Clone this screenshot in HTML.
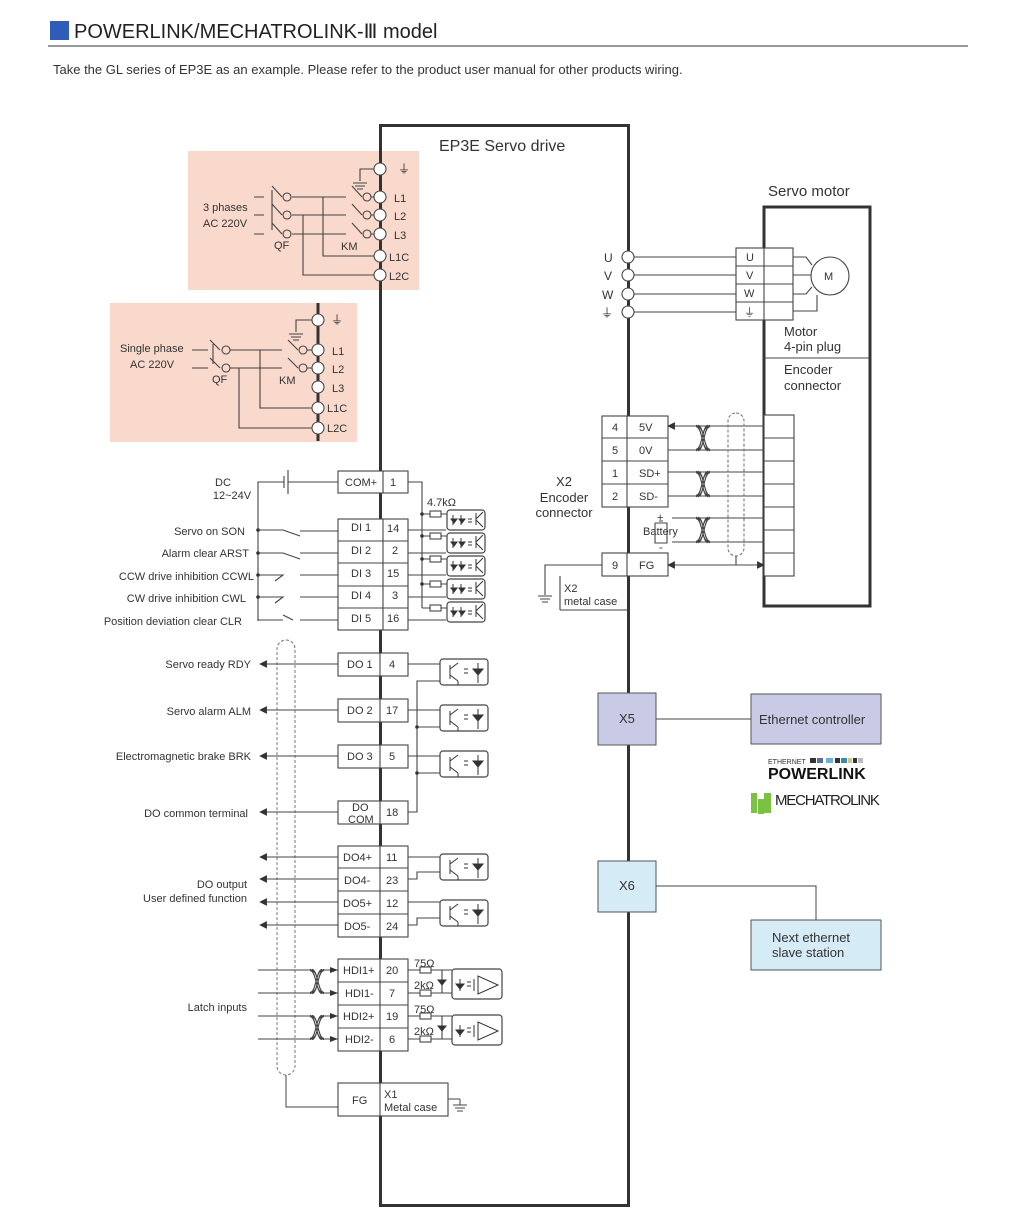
<!DOCTYPE html>
<html><head><meta charset="utf-8"><style>
html,body{margin:0;padding:0;background:#fff;}
svg{display:block;font-family:"Liberation Sans",sans-serif;}
text{fill:#333;}
.s{font-size:11px;}
.m{font-size:12px;}
</style></head><body>
<svg width="1018" height="1231" viewBox="0 0 1018 1231" xmlns="http://www.w3.org/2000/svg">
<defs>
<g id="optoDI"><rect x="0" y="-9" width="38" height="20" rx="3" fill="none" stroke="#444" stroke-width="1.2"/><path d="M6-4v10M14-4v10M4 0h6l-3 4zM12 0h6l-3 4z" stroke="#333" fill="#333" stroke-width="1"/><path d="M21 0l4 0M21 3l4 0" stroke="#333"/><path d="M29-6v12M29 0l7-7M29 1l7 7" stroke="#333" fill="none"/></g>
<g id="optoDO"><rect x="0" y="-12" width="48" height="26" rx="3" fill="none" stroke="#444" stroke-width="1.2"/><path d="M10-6v14M10-2l8-6M10 4l8 6M18 10v4" stroke="#333" fill="none"/><path d="M24-2h4M24 2h4" stroke="#333"/><path d="M38-8v20M33-2h10l-5 6z" stroke="#333" fill="#333"/></g>
<g id="optoHD"><rect x="0" y="-13" width="50" height="30" rx="3" fill="none" stroke="#444" stroke-width="1.2"/><path d="M4 2h8l-4 5zM8 -3v12" stroke="#333" fill="#333"/><path d="M15 0h4M15 4h4" stroke="#333"/><path d="M22-3v12M26-6l0 18l20-9z" stroke="#333" fill="none"/></g>
<g id="tw"><path d="M0 0c6 0 6 10 12 10M0 10c6 0 6-10 12-10M2 0c6 0 6 10 12 10M2 10c6 0 6-10 12-10" stroke="#444" fill="none" stroke-width="1"/></g>
<marker id="ar" viewBox="0 0 10 10" refX="9" refY="5" markerWidth="7" markerHeight="7" orient="auto-start-reverse"><path d="M0 0L10 5L0 10z" fill="#333"/></marker>
<g id="gnd"><path d="M-7 0h14M-5 3h10M-3 6h6" stroke="#444"/></g>
</defs>

<rect x="50" y="21" width="19" height="19" fill="#2d5db8"/>
<text x="74" y="38" style="font-size:20px;fill:#222">POWERLINK/MECHATROLINK-Ⅲ model</text>
<line x1="48" y1="46" x2="968" y2="46" stroke="#333" stroke-width="1"/>
<text x="53" y="74" style="font-size:13px">Take the GL series of EP3E as an example. Please refer to the product user manual for other products wiring.</text>

<rect x="188" y="151" width="231" height="139" fill="#f9d9cc"/>
<rect x="110" y="303" width="247" height="139" fill="#f9d9cc"/>
<line x1="318" y1="303" x2="318" y2="441" stroke="#333" stroke-width="3"/>

<rect x="380.5" y="125.5" width="248" height="1080" fill="none" stroke="#333" stroke-width="3"/>
<text x="439" y="151" style="font-size:16px">EP3E Servo drive</text>

<g stroke="#444" fill="none" stroke-width="1.1">
<circle cx="380" cy="169" r="6" fill="#fff"/><circle cx="380" cy="197" r="6" fill="#fff"/><circle cx="380" cy="215" r="6" fill="#fff"/><circle cx="380" cy="234" r="6" fill="#fff"/><circle cx="380" cy="256" r="6" fill="#fff"/><circle cx="380" cy="275" r="6" fill="#fff"/>
<path d="M374 169h-14v12"/>
<path d="M254 197h10M254 215h10M254 234h10M272 186l10 11M272 204l10 11M272 223l10 11M272 190v40"/>
<path d="M292 197h54M292 215h54M292 234h54M352 186l10 11M352 204l10 11M352 223l10 11"/>
<path d="M370 197h4M370 215h4M370 234h4"/>
<path d="M323 197v59h51M303 215v60h71"/>
<circle cx="287" cy="197" r="4" fill="#f9d9cc"/><circle cx="287" cy="215" r="4" fill="#f9d9cc"/><circle cx="287" cy="234" r="4" fill="#f9d9cc"/>
<circle cx="367" cy="197" r="4" fill="#f9d9cc"/><circle cx="367" cy="215" r="4" fill="#f9d9cc"/><circle cx="367" cy="234" r="4" fill="#f9d9cc"/>
<circle cx="318" cy="320" r="6" fill="#fff"/><circle cx="318" cy="350" r="6" fill="#fff"/><circle cx="318" cy="368" r="6" fill="#fff"/><circle cx="318" cy="387" r="6" fill="#fff"/><circle cx="318" cy="408" r="6" fill="#fff"/><circle cx="318" cy="428" r="6" fill="#fff"/>
<path d="M312 320h-16v12"/>
<path d="M192 350h16M192 368h16M210 340l10 10M210 358l10 10M213 344v20"/>
<path d="M230 350h52M230 368h52M288 340l10 10M288 358l10 10M306 350h6M306 368h6"/>
<path d="M260 350v58h52M239 368v60h73"/>
<circle cx="226" cy="350" r="4" fill="#f9d9cc"/><circle cx="226" cy="368" r="4" fill="#f9d9cc"/><circle cx="303" cy="350" r="4" fill="#f9d9cc"/><circle cx="303" cy="368" r="4" fill="#f9d9cc"/>
</g>
<use href="#gnd" x="360" y="183"/><use href="#gnd" x="296" y="334"/>
<g class="s">
<text x="398" y="173" style="font-size:12px">⏚</text><text x="394" y="202">L1</text><text x="394" y="220">L2</text><text x="394" y="239">L3</text><text x="389" y="261">L1C</text><text x="389" y="280">L2C</text>
<text x="203" y="211">3 phases</text><text x="203" y="227">AC 220V</text><text x="274" y="249">QF</text><text x="341" y="250">KM</text>
<text x="331" y="324" style="font-size:12px">⏚</text><text x="332" y="355">L1</text><text x="332" y="373">L2</text><text x="332" y="392">L3</text><text x="327" y="412">L1C</text><text x="327" y="432">L2C</text>
<text x="120" y="352">Single phase</text><text x="130" y="368">AC 220V</text><text x="212" y="383">QF</text><text x="279" y="384">KM</text>
</g>

<g stroke="#444" fill="#fff" stroke-width="1.1">
<rect x="338" y="471" width="70" height="22"/><line x1="383" y1="471" x2="383" y2="493"/>
<rect x="338" y="519" width="70" height="111"/>
<path d="M383 519v111M338 541h70M338 563h70M338 586h70M338 608h70" fill="none"/>
</g>
<g class="s">
<text x="345" y="486">COM+</text><text x="390" y="486">1</text>
<text x="351" y="531">DI 1</text><text x="387" y="532">14</text>
<text x="351" y="554">DI 2</text><text x="392" y="554">2</text>
<text x="351" y="577">DI 3</text><text x="387" y="577">15</text>
<text x="351" y="599">DI 4</text><text x="392" y="599">3</text>
<text x="351" y="622">DI 5</text><text x="387" y="622">16</text>
<text x="223" y="486" text-anchor="middle">DC</text><text x="232" y="499" text-anchor="middle">12~24V</text>
<text x="245" y="535" text-anchor="end">Servo on  SON</text>
<text x="249" y="557" text-anchor="end">Alarm clear  ARST</text>
<text x="254" y="580" text-anchor="end">CCW drive inhibition  CCWL</text>
<text x="246" y="602" text-anchor="end">CW drive inhibition  CWL</text>
<text x="242" y="625" text-anchor="end">Position deviation clear  CLR</text>
<text x="427" y="506">4.7kΩ</text>
</g>
<g stroke="#444" fill="none" stroke-width="1.1">
<path d="M338 482h-50M288 470v24M284 476v12M284 482h-26v139"/>
<path d="M258 530h25l17 6M258 553h25l17 6M258 575h25l-8 6M258 597h25l-8 6M258 620h25M283 615l10 5" />
<path d="M300 531h38M300 553h38M300 575h38M300 597h38M300 620h38"/>
<path d="M408 482h14v126"/>
<path d="M422 514h8M422 536h8M422 559h8M422 584h8M422 608h8"/>
<path d="M408 530h38M408 553h38M408 575h38M408 597h38M408 620h38"/>
<rect x="430" y="511" width="11" height="6"/><rect x="430" y="533" width="11" height="6"/><rect x="430" y="556" width="11" height="6"/><rect x="430" y="581" width="11" height="6"/><rect x="430" y="605" width="11" height="6"/>
<path d="M441 514h6M441 536h6M441 559h6M441 584h6M441 608h6"/>
</g>
<g fill="#333"><circle cx="258" cy="530" r="1.8"/><circle cx="258" cy="553" r="1.8"/><circle cx="258" cy="575" r="1.8"/><circle cx="258" cy="597" r="1.8"/><circle cx="422" cy="514" r="1.8"/><circle cx="422" cy="536" r="1.8"/><circle cx="422" cy="559" r="1.8"/><circle cx="422" cy="584" r="1.8"/></g>
<use href="#optoDI" x="447" y="519"/><use href="#optoDI" x="447" y="542"/><use href="#optoDI" x="447" y="565"/><use href="#optoDI" x="447" y="588"/><use href="#optoDI" x="447" y="611"/>

<rect x="277" y="640" width="18" height="435" rx="9" fill="none" stroke="#777" stroke-dasharray="3,2"/>
<path d="M286 1075v32h52" stroke="#444" fill="none"/>

<g stroke="#444" fill="#fff" stroke-width="1.1">
<rect x="338" y="653" width="70" height="23"/><rect x="338" y="699" width="70" height="23"/><rect x="338" y="745" width="70" height="23"/><rect x="338" y="801" width="70" height="23"/>
<path d="M380 653v23M380 699v23M380 745v23M380 801v23"/>
<rect x="338" y="846" width="70" height="91"/><path d="M380 846v91M338 868h70M338 891h70M338 914h70"/>
<rect x="338" y="959" width="70" height="92"/><path d="M380 959v92M338 982h70M338 1005h70M338 1028h70"/>
<rect x="338" y="1083" width="110" height="33"/><path d="M380 1083v33"/>
</g>
<g stroke="#444" fill="none" stroke-width="1.1" marker-end="url(#ar)">
<path d="M338 664H260"/><path d="M338 710H260"/><path d="M338 756H260"/><path d="M338 812H260"/>
<path d="M338 857H260"/><path d="M338 879H260"/><path d="M338 902H260"/><path d="M338 925H260"/>
</g>
<g stroke="#444" fill="none" stroke-width="1.1">
<path d="M408 664h32M408 710h32M408 756h32M408 812h9V681h23M417 727h23M417 773h23"/>
<path d="M408 857h32M408 879h9v-7h23M408 902h32M408 925h9v-7h23"/>
</g>
<g fill="#333"><circle cx="417" cy="727" r="1.8"/><circle cx="417" cy="773" r="1.8"/></g>
<use href="#optoDO" x="440" y="671"/><use href="#optoDO" x="440" y="717"/><use href="#optoDO" x="440" y="763"/><use href="#optoDO" x="440" y="866"/><use href="#optoDO" x="440" y="912"/>
<g class="s">
<text x="347" y="668">DO 1</text><text x="389" y="668">4</text>
<text x="347" y="714">DO 2</text><text x="386" y="714">17</text>
<text x="347" y="760">DO 3</text><text x="389" y="760">5</text>
<text x="352" y="811">DO</text><text x="348" y="823">COM</text><text x="386" y="816">18</text>
<text x="343" y="861">DO4+</text><text x="386" y="861">11</text>
<text x="344" y="884">DO4-</text><text x="386" y="884">23</text>
<text x="343" y="907">DO5+</text><text x="386" y="907">12</text>
<text x="344" y="930">DO5-</text><text x="386" y="930">24</text>
<text x="251" y="668" text-anchor="end">Servo ready  RDY</text>
<text x="251" y="715" text-anchor="end">Servo alarm  ALM</text>
<text x="251" y="760" text-anchor="end">Electromagnetic brake  BRK</text>
<text x="248" y="817" text-anchor="end">DO common terminal</text>
<text x="247" y="888" text-anchor="end">DO output</text>
<text x="247" y="902" text-anchor="end">User defined function</text>
<text x="247" y="1011" text-anchor="end">Latch inputs</text>
<text x="343" y="974">HDI1+</text><text x="386" y="974">20</text>
<text x="345" y="997">HDI1-</text><text x="389" y="997">7</text>
<text x="343" y="1020">HDI2+</text><text x="386" y="1020">19</text>
<text x="345" y="1043">HDI2-</text><text x="389" y="1043">6</text>
<text x="352" y="1104">FG</text><text x="384" y="1098">X1</text><text x="384" y="1111">Metal case</text>
<text x="414" y="967">75Ω</text><text x="414" y="989">2kΩ</text><text x="414" y="1013">75Ω</text><text x="414" y="1035">2kΩ</text>
</g>
<g stroke="#444" fill="none" stroke-width="1.1">
<path d="M258 970h52M258 993h52M324 970h14M324 993h14M258 1016h52M258 1039h52M324 1016h14M324 1039h14" />
<path d="M408 970h12M408 993h12M431 970h21M431 993h21M408 1016h12M408 1039h12M431 1016h21M431 1039h21"/>
<rect x="420" y="967" width="11" height="6"/><rect x="420" y="990" width="11" height="6"/><rect x="420" y="1013" width="11" height="6"/><rect x="420" y="1036" width="11" height="6"/>
<path d="M442 970v23M442 1016v23"/>
</g>
<path d="M438 980h8l-4 5zM438 1026h8l-4 5z" fill="#333" stroke="#333"/>
<g fill="#333"><path d="M330 967l8 3-8 3zM330 990l8 3-8 3zM330 1013l8 3-8 3zM330 1036l8 3-8 3z"/></g>
<g transform="translate(310,970) scale(1,2.3)"><use href="#tw"/></g>
<g transform="translate(310,1016) scale(1,2.3)"><use href="#tw"/></g>
<use href="#optoHD" x="452" y="982"/><use href="#optoHD" x="452" y="1028"/>
<path d="M448 1099h12" stroke="#444"/><path d="M460 1099v6" stroke="#444"/><use href="#gnd" x="460" y="1105"/>

<g stroke="#444" fill="none" stroke-width="1.1">
<circle cx="628" cy="257" r="6" fill="#fff"/><circle cx="628" cy="275" r="6" fill="#fff"/><circle cx="628" cy="294" r="6" fill="#fff"/><circle cx="628" cy="312" r="6" fill="#fff"/>
<path d="M634 257h102M634 275h102M634 294h102M634 312h102"/>
</g>
<g class="m"><text x="604" y="262">U</text><text x="604" y="280">V</text><text x="602" y="299">W</text><text x="601" y="317">⏚</text></g>

<rect x="764" y="207" width="106" height="399" fill="none" stroke="#333" stroke-width="3"/>
<text x="768" y="196" style="font-size:15px">Servo motor</text>
<g stroke="#444" fill="#fff" stroke-width="1.1">
<rect x="736" y="248" width="57" height="72"/><path d="M764 248v72M736 266h57M736 284h57M736 302h57"/>
<circle cx="830" cy="276" r="19"/>
<path d="M793 257h13l6 8M793 275h18M793 294h13l6-7M793 311h24v-16" fill="none"/>
<path d="M764 358h106" fill="none"/>
<rect x="764" y="415" width="30" height="161"/>
<path d="M764 438h30M764 461h30M764 484h30M764 507h30M764 530h30M764 553h30" fill="none"/>
</g>
<g class="s"><text x="746" y="261">U</text><text x="746" y="279">V</text><text x="744" y="297">W</text><text x="744" y="316">⏚</text><text x="824" y="280">M</text></g>
<g style="font-size:13px"><text x="784" y="336">Motor</text><text x="784" y="351">4-pin plug</text><text x="784" y="374">Encoder</text><text x="784" y="390">connector</text></g>

<g stroke="#444" fill="#fff" stroke-width="1.1">
<rect x="602" y="416" width="66" height="91"/><path d="M627 416v91M602 438h66M602 461h66M602 484h66" fill="none"/>
<rect x="602" y="553" width="66" height="23"/><path d="M627 553v23" fill="none"/>
</g>
<g class="s">
<text x="612" y="431">4</text><text x="639" y="431">5V</text>
<text x="612" y="454">5</text><text x="639" y="454">0V</text>
<text x="612" y="477">1</text><text x="639" y="477">SD+</text>
<text x="612" y="500">2</text><text x="639" y="500">SD-</text>
<text x="612" y="569">9</text><text x="639" y="569">FG</text>
<text x="643" y="535">Battery</text><text x="657" y="521">+</text><text x="659" y="551">-</text>
<text x="564" y="592">X2</text><text x="564" y="605">metal case</text>
</g>
<g style="font-size:13px"><text x="564" y="486" text-anchor="middle">X2</text><text x="564" y="502" text-anchor="middle">Encoder</text><text x="564" y="517" text-anchor="middle">connector</text></g>
<g stroke="#444" fill="none" stroke-width="1.1">
<path d="M668 426h96M668 450h96M668 472h96M668 496h96M672 518h92M672 542h92" marker-start="url(#ar)"/>
<path d="M668 565h96" marker-start="url(#ar)" marker-end="url(#ar)"/>
<path d="M602 565h-57v30M560 576v34M560 610h68"/>
<rect x="728" y="413" width="16" height="143" rx="8" stroke="#777" stroke-dasharray="3,2"/>
<path d="M736 556v9"/>
<path d="M655 523h12v20h-12v-20M659 521h4"/>
</g>
<use href="#gnd" x="545" y="596"/>
<g transform="translate(696,426) scale(1,2.4)"><use href="#tw"/></g>
<g transform="translate(696,472) scale(1,2.4)"><use href="#tw"/></g>
<g transform="translate(696,518) scale(1,2.4)"><use href="#tw"/></g>

<rect x="598" y="693" width="58" height="52" fill="#c9cbe6" stroke="#555"/>
<rect x="751" y="694" width="130" height="50" fill="#c9cbe6" stroke="#555"/>
<path d="M656 719h95" stroke="#444"/>
<rect x="598" y="861" width="58" height="51" fill="#d5ebf6" stroke="#555"/>
<rect x="751" y="920" width="130" height="50" fill="#d5ebf6" stroke="#555"/>
<path d="M656 886h160v34" stroke="#444" fill="none"/>
<text x="619" y="723" style="font-size:13px">X5</text>
<text x="759" y="724" style="font-size:13px">Ethernet controller</text>
<text x="619" y="890" style="font-size:13px">X6</text>
<text x="772" y="942" style="font-size:13px">Next ethernet</text>
<text x="772" y="957" style="font-size:13px">slave station</text>
<text x="768" y="764" style="font-size:7px">ETHERNET</text>
<g><rect x="810" y="758" width="6" height="5" fill="#333"/><rect x="817" y="758" width="6" height="5" fill="#5a6ea0"/><rect x="826" y="758" width="7" height="5" fill="#6ab0d8"/><rect x="835" y="758" width="5" height="5" fill="#333"/><rect x="841" y="758" width="6" height="5" fill="#3a8ab0"/><rect x="848" y="758" width="4" height="5" fill="#d8c080"/><rect x="853" y="758" width="4" height="5" fill="#333"/><rect x="858" y="758" width="5" height="5" fill="#bbb"/></g>
<text x="768" y="779" style="font-size:16px;font-weight:bold;fill:#111">POWERLINK</text>
<rect x="751" y="793" width="6" height="20" fill="#7cc242"/><rect x="758" y="799" width="6" height="15" fill="#7cc242"/><rect x="764" y="793" width="7" height="20" fill="#7cc242"/>
<text x="775" y="805" style="font-size:15px;fill:#222;letter-spacing:-1.2px">MECHATROLINK</text>
</svg>
</body></html>
